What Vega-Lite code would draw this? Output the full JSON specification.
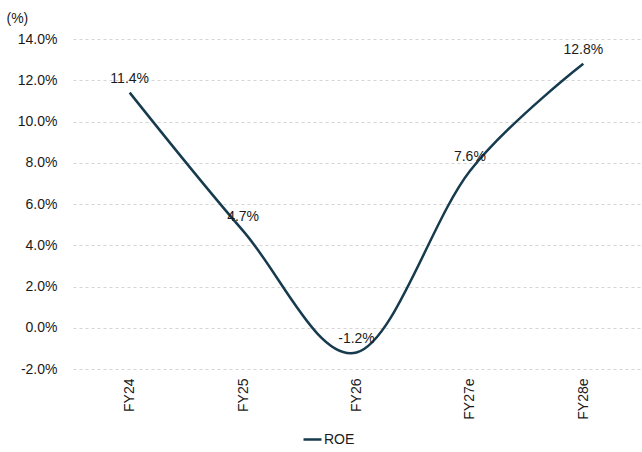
{
  "$schema": "https://vega.github.io/schema/vega-lite/v6.json",
  "width": 567,
  "height": 330,
  "autosize": {"type": "none"},
  "padding": {"left": 73, "top": 39, "right": 2, "bottom": 83},
  "background": "white",
  "config": {
    "locale": {"number": {"decimal": ".", "thousands": ",", "grouping": [3], "currency": ["$", ""], "minus": "-"}},
    "view": {"stroke": null},
    "font": "Liberation Sans",
    "axis": {"labelFont": "Liberation Sans", "labelFontSize": 14, "labelColor": "#1a1a1a", "domain": false, "ticks": false},
    "legend": {"labelFont": "Liberation Sans", "labelFontSize": 14, "labelColor": "#1a1a1a"}
  },
  "data": {
    "values": [
      {"year": "FY24", "roe": 0.114, "series": "ROE"},
      {"year": "FY25", "roe": 0.047, "series": "ROE"},
      {"year": "FY26", "roe": -0.012, "series": "ROE"},
      {"year": "FY27e", "roe": 0.076, "series": "ROE"},
      {"year": "FY28e", "roe": 0.128, "series": "ROE"}
    ]
  },
  "encoding": {
    "x": {
      "field": "year", "type": "nominal", "sort": null,
      "axis": {"title": null, "labelAngle": -90, "labelPadding": 9, "grid": false}
    },
    "y": {
      "field": "roe", "type": "quantitative",
      "scale": {"domain": [-0.02, 0.14], "nice": false},
      "axis": {
        "values": [-0.02, 0, 0.02, 0.04, 0.06, 0.08, 0.1, 0.12, 0.14],
        "format": ".1%", "labelPadding": 16,
        "grid": true, "gridColor": "#d4d4d4", "gridDash": [3, 3], "gridWidth": 1,
        "title": "(%)", "titleAngle": 0, "titleAlign": "left", "titleBaseline": "middle",
        "titleX": -67, "titleY": -21, "titleFont": "Liberation Sans", "titleFontSize": 14,
        "titleFontWeight": "normal", "titleColor": "#1a1a1a"
      }
    }
  },
  "layer": [
    {
      "mark": {"type": "line", "interpolate": "cardinal", "tension": 0, "strokeWidth": 2.5},
      "encoding": {
        "color": {
          "field": "series", "type": "nominal",
          "scale": {"range": ["#163b4e"]},
          "legend": {
            "title": null, "orient": "none", "legendX": 229, "legendY": 390,
            "symbolType": "stroke", "symbolSize": 324, "symbolStrokeWidth": 2.5, "labelOffset": 1
          }
        }
      }
    },
    {
      "mark": {"type": "text", "dy": -14, "fontSize": 14, "color": "#1a1a1a", "font": "Liberation Sans"},
      "encoding": {
        "text": {"field": "roe", "type": "quantitative", "format": ".1%"}
      }
    }
  ]
}
